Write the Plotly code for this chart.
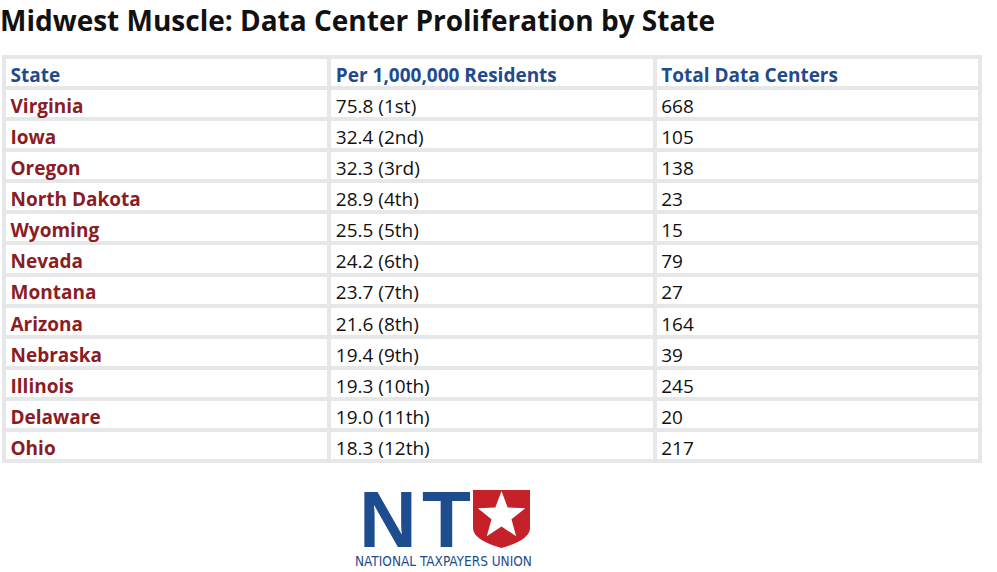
import math
import plotly.graph_objects as go

title = "Midwest Muscle: Data Center Proliferation by State"
headers = ["State", "Per 1,000,000 Residents", "Total Data Centers"]
states = ["Virginia", "Iowa", "Oregon", "North Dakota", "Wyoming", "Nevada",
          "Montana", "Arizona", "Nebraska", "Illinois", "Delaware", "Ohio"]
per_million = [75.8, 32.4, 32.3, 28.9, 25.5, 24.2, 23.7, 21.6, 19.4, 19.3, 19.0, 18.3]
ranks = ["1st", "2nd", "3rd", "4th", "5th", "6th", "7th", "8th", "9th", "10th", "11th", "12th"]
totals = [668, 105, 138, 23, 15, 79, 27, 164, 39, 245, 20, 217]
logo_letters = ["N", "T"]
logo_caption = "NATIONAL TAXPAYERS UNION"

W, H = 997, 572
BLUE = "#1f4b8e"
RED = "#8b1c24"
GRID = "#e6e7e8"
INK = "#111111"
LOGO_BLUE = "#1d4d8f"
FONT = "Open Sans"
FS = 19

# table placement (pixels)
TX0, TX1, TY0, TY1 = 4, 980, 57, 461

def px(x):
    return x / W

def py(y):
    return 1 - y / H

ncols = len(headers)
nrows = len(states) + 1
col_w = (TX1 - TX0) / ncols
xoff = 6.5 / col_w  # left padding in data units
yoff = 0.15

per_text = [f"{v:.1f} ({r})" for v, r in zip(per_million, ranks)]
body_rows = list(range(1, nrows))

fig = go.Figure()
# white cells with grey gaps
fig.add_trace(go.Heatmap(
    z=[[0] * ncols for _ in range(nrows)],
    x=list(range(ncols)), y=list(range(nrows)),
    colorscale=[[0, "white"], [1, "white"]], showscale=False,
    xgap=4, ygap=4, hoverinfo="skip",
))
# header row
fig.add_trace(go.Scatter(
    x=[c - 0.5 + xoff for c in range(ncols)], y=[0 + yoff] * ncols,
    mode="text", text=[f"<b>{h}</b>" for h in headers], textposition="middle right",
    textfont=dict(family=FONT, size=FS, color=BLUE), hoverinfo="skip",
))
# state column
fig.add_trace(go.Scatter(
    x=[-0.5 + xoff] * len(states), y=[r + yoff for r in body_rows],
    mode="text", text=[f"<b>{s}</b>" for s in states], textposition="middle right",
    textfont=dict(family=FONT, size=FS, color=RED), hoverinfo="skip",
))
# per-million column
fig.add_trace(go.Scatter(
    x=[0.5 + xoff] * len(per_text), y=[r + yoff for r in body_rows],
    mode="text", text=per_text, textposition="middle right",
    textfont=dict(family=FONT, size=FS, color=INK), hoverinfo="skip",
))
# totals column
fig.add_trace(go.Scatter(
    x=[1.5 + xoff] * len(totals), y=[r + yoff for r in body_rows],
    mode="text", text=[str(t) for t in totals], textposition="middle right",
    textfont=dict(family=FONT, size=FS, color=INK), hoverinfo="skip",
))

# Title
fig.add_annotation(
    text=f"<b>{title}</b>", x=px(-2), y=py(20), xref="paper", yref="paper",
    xanchor="left", yanchor="middle", showarrow=False,
    font=dict(family=FONT, size=28, color=INK),
)

# Logo: N and T letters
for letter, lx in zip(logo_letters, [388, 446]):
    fig.add_annotation(
        text=f"<b>{letter}</b>", x=px(lx), y=py(519), xref="paper", yref="paper",
        xanchor="center", yanchor="middle", showarrow=False,
        font=dict(family="Liberation Sans", size=80, color=LOGO_BLUE, weight=900),
    )
# Shield
x0, x1, y0, ys, yb = 473, 530, 490, 528, 548
xc = (x0 + x1) / 2
def P(x, y):
    return f"{px(x)},{py(y)}"
shield = (f"M {P(x0, y0)} L {P(x1, y0)} L {P(x1, ys)} "
          f"Q {P(x1, 540)} {P(xc, yb)} Q {P(x0, 540)} {P(x0, ys)} Z")
fig.add_shape(type="path", path=shield, xref="paper", yref="paper",
              fillcolor="#c42128", line=dict(width=0), layer="above")
# Star
cx, cy, ro, ri = 501.5, 516, 25, 10.5
pts = []
for k in range(10):
    ang = -math.pi / 2 + k * math.pi / 5
    r = ro if k % 2 == 0 else ri
    pts.append(P(cx + r * math.cos(ang), cy + r * math.sin(ang)))
star = "M " + " L ".join(pts) + " Z"
fig.add_shape(type="path", path=star, xref="paper", yref="paper",
              fillcolor="white", line=dict(width=0), layer="above")

fig.add_annotation(
    text=logo_caption, x=px(443.5), y=py(561), xref="paper", yref="paper",
    xanchor="center", yanchor="middle", showarrow=False,
    font=dict(family="DejaVu Sans Condensed, Roboto", size=13.5, color=LOGO_BLUE),
)

axis_common = dict(showgrid=False, zeroline=False, showticklabels=False, ticks="",
                   showline=True, linecolor=GRID, linewidth=2, mirror=True,
                   fixedrange=True)
fig.update_layout(
    width=W, height=H,
    margin=dict(l=0, r=0, t=0, b=0),
    paper_bgcolor="white", plot_bgcolor=GRID,
    showlegend=False,
    xaxis=dict(domain=[px(TX0), px(TX1)], range=[-0.5, ncols - 0.5], **axis_common),
    yaxis=dict(domain=[py(TY1), py(TY0)], range=[nrows - 0.5, -0.5], **axis_common),
)

fig.write_html("out.html", config={"displayModeBar": False},
               post_script="document.body.style.margin='0';")
